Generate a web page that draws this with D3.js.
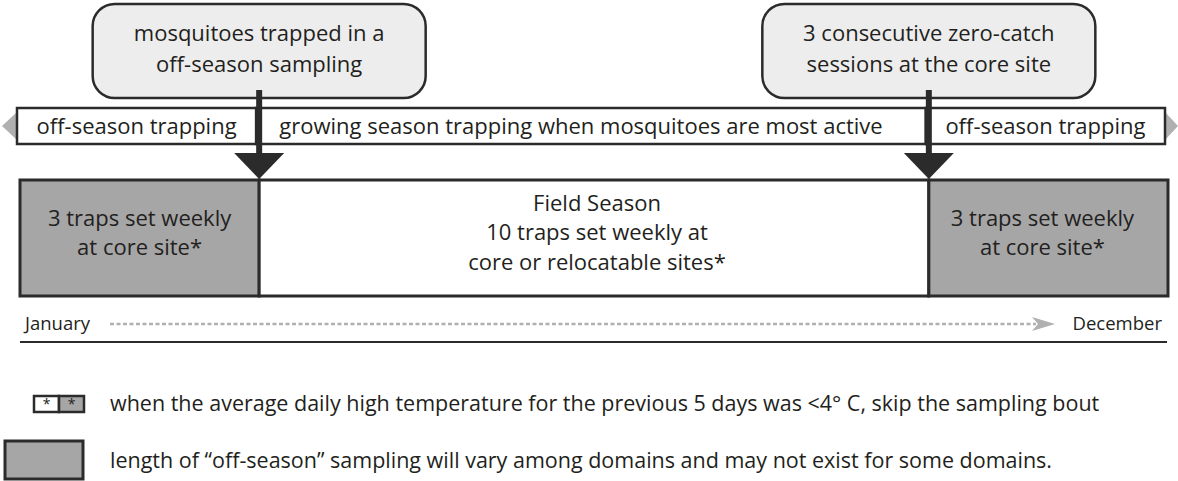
<!DOCTYPE html>
<html>
<head>
<meta charset="utf-8">
<script src="https://cdn.jsdelivr.net/npm/d3@7"></script>
<style>
  body { margin: 0; background: #fff; }
  svg text { font-family: "Open Sans", "Noto Sans", sans-serif; fill: #231f20; }
</style>
</head>
<body>
<div id="chart"></div>
<script>
// season phases, in months from start of January (0) to end of December (12)
var phaseBounds = [0, 2.5, 9.5, 12];
var phaseKinds = ['off', 'field', 'off'];
var bandLabels = ['off-season trapping', 'growing season trapping when mosquitoes are most active', 'off-season trapping'];
var boxLabels = [
	['3 traps set weekly', 'at core site*'],
	['Field Season', '10 traps set weekly at', 'core or relocatable sites*'],
	['3 traps set weekly', 'at core site*']
];
var calloutAt = [2.5, 9.5];
var calloutLabels = [
	['mosquitoes trapped in a', 'off-season sampling'],
	['3 consecutive zero-catch', 'sessions at the core site']
];
var monthLabels = ['January', 'December'];
var legendNotes = [
	'when the average daily high temperature for the previous 5 days was <4\u00b0 C, skip the sampling bout',
	'length of \u201coff-season\u201d sampling will vary among domains and may not exist for some domains.'
];

var width = 1178, height = 481;
var dark = '#2b2b2b', gray = '#a6a6a6', light = '#b0b0b0';
var fs = 22;

var svg = d3.select('#chart').append('svg')
	.attr('width', width).attr('height', height);

var x = d3.scaleLinear().domain([0, 12]).range([20, 1168]);

var phases = phaseKinds.map(function(k, i){
	return {kind: k, start: phaseBounds[i], end: phaseBounds[i + 1], band: bandLabels[i], box: boxLabels[i]};
});

// season band
var band = {top: 108, h: 36, shift: -3};
svg.append('path')
	.attr('d', d3.line()([[x(0) + band.shift, band.top + 4], [x(0) + band.shift - 15, band.top + 18], [x(0) + band.shift, band.top + 32]]))
	.attr('fill', light);
svg.append('path')
	.attr('d', d3.line()([[x(12) + band.shift, band.top + 4], [x(12) + band.shift + 13, band.top + 18], [x(12) + band.shift, band.top + 32]]))
	.attr('fill', light);

var bandG = svg.append('g').attr('class', 'band');
bandG.selectAll('rect').data(phases).enter().append('rect')
	.attr('x', function(d){ return x(d.start) + band.shift; })
	.attr('y', band.top)
	.attr('width', function(d){ return x(d.end) - x(d.start); })
	.attr('height', band.h)
	.attr('fill', '#fff')
	.attr('stroke', dark)
	.attr('stroke-width', 2.5);
bandG.selectAll('text').data(phases).enter().append('text')
	.attr('x', function(d, i){ return (x(d.start) + x(d.end)) / 2 + band.shift + (i == 1 ? -10 : 0); })
	.attr('y', band.top + band.h / 2)
	.attr('dy', '0.35em')
	.attr('text-anchor', 'middle')
	.attr('font-size', fs)
	.text(function(d){ return d.band; });

// main phase boxes
var box = {top: 180, h: 116};
var boxG = svg.append('g').attr('class', 'boxes');
var boxSel = boxG.selectAll('g').data(phases).enter().append('g');
boxSel.append('rect')
	.attr('x', function(d){ return x(d.start); })
	.attr('y', box.top)
	.attr('width', function(d){ return x(d.end) - x(d.start); })
	.attr('height', box.h)
	.attr('fill', function(d){ return d.kind == 'off' ? gray : '#fff'; })
	.attr('stroke', dark)
	.attr('stroke-width', 3);
boxSel.each(function(d, i){
	var g = d3.select(this);
	var n = d.box.length;
	var cx = (x(d.start) + x(d.end)) / 2 + (i == 2 ? -6 : (i == 1 ? 3 : 0));
	var y0 = n == 3 ? 203 : 218;
	var step = n == 3 ? 29.5 : 29;
	g.selectAll('text').data(d.box).enter().append('text')
		.attr('x', cx)
		.attr('y', function(t, j){ return y0 + j * step; })
		.attr('dy', '0.35em')
		.attr('text-anchor', 'middle')
		.attr('font-size', fs)
		.text(function(t){ return t; });
});

// callouts
var call = {top: 4, h: 94, w: 333};
var callG = svg.selectAll('.callout').data(calloutAt).enter().append('g')
	.attr('class', 'callout');
callG.append('rect')
	.attr('x', function(d){ return x(d) - call.w / 2; })
	.attr('y', call.top)
	.attr('width', call.w)
	.attr('height', call.h)
	.attr('rx', 22)
	.attr('fill', '#ededed')
	.attr('stroke', dark)
	.attr('stroke-width', 2.5);
callG.each(function(d, i){
	d3.select(this).selectAll('text').data(calloutLabels[i]).enter().append('text')
		.attr('x', x(d))
		.attr('y', function(t, j){ return 33 + j * 31; })
		.attr('dy', '0.35em')
		.attr('text-anchor', 'middle')
		.attr('font-size', fs)
		.text(function(t){ return t; });
});
callG.append('line')
	.attr('x1', function(d){ return x(d); })
	.attr('x2', function(d){ return x(d); })
	.attr('y1', 90)
	.attr('y2', 156)
	.attr('stroke', dark)
	.attr('stroke-width', 6);
callG.append('path')
	.attr('d', function(d){
		return d3.line()([[x(d) - 25, 153], [x(d) + 25, 153], [x(d), 179]]) + 'Z';
	})
	.attr('fill', dark);

// timeline
var tl = {y: 324, base: 342};
svg.append('text')
	.attr('x', 25).attr('y', tl.y).attr('dy', '0.35em')
	.attr('font-size', 18.5)
	.text(monthLabels[0]);
svg.append('text')
	.attr('x', 1162).attr('y', tl.y).attr('dy', '0.35em')
	.attr('text-anchor', 'end')
	.attr('font-size', 18.5)
	.text(monthLabels[1]);
svg.append('line')
	.attr('x1', 110).attr('x2', 1036)
	.attr('y1', tl.y).attr('y2', tl.y)
	.attr('stroke', light)
	.attr('stroke-width', 2.5)
	.attr('stroke-dasharray', '4,2.5');
svg.append('path')
	.attr('d', d3.line()([[1032, tl.y - 7], [1055, tl.y], [1032, tl.y + 7], [1038, tl.y]]) + 'Z')
	.attr('fill', light);
svg.append('line')
	.attr('x1', x(0)).attr('x2', x(12) - 1)
	.attr('y1', tl.base).attr('y2', tl.base)
	.attr('stroke', dark)
	.attr('stroke-width', 2);

// legend
var lg = svg.append('g').attr('class', 'legend');
[0, 1].forEach(function(i){
	lg.append('rect')
		.attr('x', 34 + i * 25).attr('y', 396)
		.attr('width', 25).attr('height', 16)
		.attr('fill', i ? gray : '#fff')
		.attr('stroke', dark)
		.attr('stroke-width', 2.5);
	lg.append('text')
		.attr('x', 34 + i * 25 + 12.5).attr('y', 409)
		.attr('text-anchor', 'middle')
		.attr('font-size', 14)
		.text('*');
});
lg.append('rect')
	.attr('x', 5).attr('y', 441)
	.attr('width', 78).attr('height', 38)
	.attr('fill', gray)
	.attr('stroke', dark)
	.attr('stroke-width', 3);
lg.selectAll('.note').data(legendNotes).enter().append('text')
	.attr('class', 'note')
	.attr('x', 110)
	.attr('y', function(d, i){ return i ? 460 : 403; })
	.attr('dy', '0.35em')
	.attr('font-size', 21.5)
	.text(function(d){ return d; });
</script>
</body>
</html>
